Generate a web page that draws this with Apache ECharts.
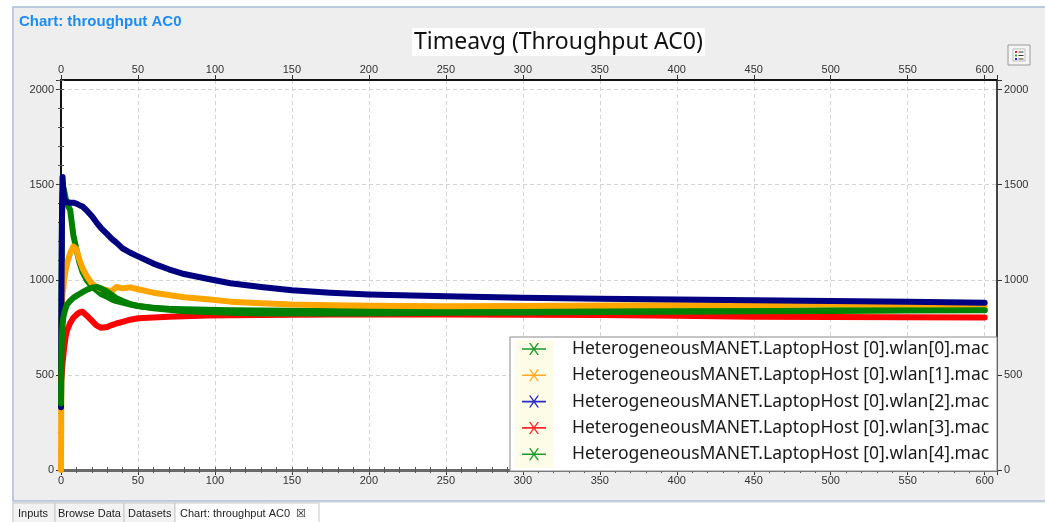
<!DOCTYPE html>
<html>
<head>
<meta charset="utf-8">
<script src="https://cdn.jsdelivr.net/npm/echarts@6/dist/echarts.min.js"></script>
<style>
html,body{margin:0;padding:0;background:#fff;}
#c{width:1045px;height:522px;}
</style>
</head>
<body>
<div id="c"></div>
<script>
// ---- data ----
const seriesNames = [
  'HeterogeneousMANET.LaptopHost [0].wlan[0].mac',
  'HeterogeneousMANET.LaptopHost [0].wlan[1].mac',
  'HeterogeneousMANET.LaptopHost [0].wlan[2].mac',
  'HeterogeneousMANET.LaptopHost [0].wlan[3].mac',
  'HeterogeneousMANET.LaptopHost [0].wlan[4].mac'
];
const times = [0, 0.3, 0.6, 1, 1.5, 2, 3, 4, 6, 8, 10, 12, 14, 17, 20, 23, 26, 30, 33, 36, 40, 45, 50, 60, 70, 80, 95, 110, 130, 150, 175, 200, 250, 300, 350, 400, 450, 500, 550, 600];
const wlan0 = [350, 900, 1300, 1450, 1484, 1470, 1430, 1400, 1365, 1235, 1160, 1090, 1040, 995, 965, 945, 925, 910, 897, 888, 880, 870, 862, 853, 848, 845, 842, 840, 838, 837, 836, 836, 836, 837, 838, 839, 839, 840, 841, 841];
const wlan1 = [0, 600, 880, 930, 950, 1000, 1050, 1090, 1140, 1175, 1160, 1105, 1060, 1015, 980, 962, 952, 945, 940, 962, 955, 960, 950, 932, 920, 908, 897, 885, 877, 870, 866, 863, 861, 862, 865, 866, 866, 871, 868, 862];
const wlan2 = [330, 900, 1300, 1540, 1470, 1430, 1410, 1400, 1405, 1405, 1400, 1392, 1385, 1362, 1335, 1302, 1272, 1240, 1215, 1195, 1165, 1142, 1123, 1085, 1055, 1030, 1005, 982, 962, 945, 932, 923, 913, 906, 900, 896, 892, 888, 884, 879];
const wlan3 = [470, 480, 520, 560, 600, 640, 700, 735, 773, 800, 816, 828, 832, 810, 785, 760, 748, 752, 762, 770, 779, 790, 798, 802, 805, 808, 812, 814, 815, 816, 817, 817, 817, 816, 815, 811, 806, 804, 803, 802];
const wlan4 = [350, 600, 700, 760, 800, 820, 850, 870, 890, 905, 915, 925, 935, 948, 958, 962, 955, 938, 920, 903, 888, 872, 862, 850, 842, 835, 830, 826, 823, 822, 822, 823, 826, 828, 830, 832, 834, 836, 838, 840];
const seriesValues = [wlan0, wlan1, wlan2, wlan3, wlan4];
const seriesColors = ['#008000', '#ffa500', '#000080', '#ff0000', '#008000'];
const legendColors = ['#1a9a2a', '#ffaa22', '#2a2ad0', '#ff2a2a', '#1a9a2a'];
const xMajorTicks = [0, 50, 100, 150, 200, 250, 300, 350, 400, 450, 500, 550, 600];
const yMajorTicks = [0, 500, 1000, 1500, 2000];

const chart = echarts.init(document.getElementById('c'), null, {renderer: 'canvas'});
const X_MAX = 608, Y_MAX = 2050;
const labelFont = {fontFamily: 'Liberation Sans, Arial, sans-serif', fontSize: 11, color: '#333'};
const xFmt = v => xMajorTicks.indexOf(v) >= 0 ? String(v) : '';
const yFmt = v => yMajorTicks.indexOf(v) >= 0 ? String(v) : '';

function mainX(pos, lineColor, lineWidth, showSplit) {
  return {
    type: 'value', position: pos, min: 0, max: X_MAX, interval: 50,
    axisLine: {show: true, onZero: false, lineStyle: {color: lineColor, width: lineWidth}},
    axisTick: {show: true, inside: false, length: 5, lineStyle: {color: '#333'}},
    axisLabel: Object.assign({margin: 5, formatter: xFmt}, labelFont),
    splitLine: {show: showSplit, lineStyle: {color: '#d4d4d4', type: [4, 3]}}
  };
}
function minorX(pos) {
  return {
    type: 'value', position: pos, min: 0, max: X_MAX, interval: 10,
    axisLine: {show: false}, axisTick: {show: true, length: 3, lineStyle: {color: '#555'}},
    axisLabel: {show: false}, splitLine: {show: false}
  };
}
function mainY(pos, lineColor, lineWidth, showSplit) {
  return {
    type: 'value', position: pos, min: 0, max: Y_MAX, interval: 500,
    axisLine: {show: true, onZero: false, lineStyle: {color: lineColor, width: lineWidth}},
    axisTick: {show: true, inside: false, length: 5, lineStyle: {color: '#333'}},
    axisLabel: Object.assign({margin: 7, formatter: yFmt}, labelFont),
    splitLine: {show: showSplit, lineStyle: {color: '#d4d4d4', type: [4, 3]}}
  };
}
function minorY(pos) {
  return {
    type: 'value', position: pos, min: 0, max: Y_MAX, interval: 100,
    axisLine: {show: false}, axisTick: {show: true, length: 3, lineStyle: {color: '#555'}},
    axisLabel: {show: false}, splitLine: {show: false}
  };
}

const iconPath = 'path://M0,5.2 L24,5.2 L24,6.8 L0,6.8 Z M7,0 L8.6,0 L17,12 L15.4,12 Z M15.4,0 L17,0 L8.6,12 L7,12 Z';

const series = seriesNames.map((name, i) => ({
  name: name,
  type: 'line',
  xAxisIndex: 0, yAxisIndex: 0,
  showSymbol: false,
  symbol: 'none',
  color: seriesColors[i],
  lineStyle: {width: 6, color: seriesColors[i], cap: 'round', join: 'round'},
  data: times.map((t, k) => [t, seriesValues[i][k]]),
  z: 2 + i * 0.01,
  animation: false
}));

const tabs = [
  {text: 'Inputs', x: 13, w: 42, tx: 18, active: false},
  {text: 'Browse Data', x: 55, w: 69, tx: 58, active: false},
  {text: 'Datasets', x: 124, w: 51, tx: 128, active: false},
  {text: 'Chart: throughput AC0  \u2612', x: 175, w: 144, tx: 180, active: true}
];
const tabGraphics = [];
tabs.forEach(t => {
  tabGraphics.push({type: 'rect', shape: {x: t.x, y: 503, width: t.w, height: 20},
    style: {fill: t.active ? '#ffffff' : '#f2f2f2', stroke: '#c8c8c8', lineWidth: 1}, z: 1});
  tabGraphics.push({type: 'text', x: t.tx, y: 514,
    style: {text: t.text, fill: '#222', font: '11px Liberation Sans, Arial, sans-serif', textVerticalAlign: 'middle'}, z: 2});
});

chart.setOption({
  animation: false,
  backgroundColor: '#ffffff',
  title: [
    {text: 'Chart: throughput AC0', left: 19, top: 14,
     textStyle: {fontFamily: 'Liberation Sans, Arial, sans-serif', fontSize: 15, fontWeight: 'bold', color: '#1c8cf5'}, padding: 0},
    {text: 'Timeavg (Throughput AC0)', left: 412, top: 28, backgroundColor: '#ffffff', padding: [0, 2, 0, 2],
     textStyle: {fontFamily: 'Noto Sans, Open Sans, sans-serif', fontSize: 23, fontWeight: 'normal', color: '#111', lineHeight: 28}}
  ],
  grid: {left: 61, right: 48, top: 80, bottom: 52, show: true, backgroundColor: '#ffffff', borderWidth: 0, containLabel: false},
  xAxis: [mainX('bottom', '#6a6a6a', 3, true), mainX('top', '#111', 2, false), minorX('bottom'), minorX('top')],
  yAxis: [mainY('left', '#111', 2, true), mainY('right', '#444', 2, false), minorY('left'), minorY('right')],
  legend: {
    orient: 'vertical', left: 522, top: 339, padding: 0, itemGap: 6.3,
    itemWidth: 24, itemHeight: 12, icon: iconPath, selectedMode: false,
    textStyle: {fontFamily: 'Noto Sans, Open Sans, sans-serif', fontSize: 17.5, color: '#1a1a1a', lineHeight: 20, padding: [0, 0, 0, 21]},
    data: seriesNames.map((n, i) => ({name: n, itemStyle: {color: legendColors[i]}})),
    z: 20
  },
  graphic: [
    {type: 'rect', shape: {x: 13, y: 7, width: 1040, height: 494}, style: {fill: '#eeeeee', stroke: '#a9bfd6', lineWidth: 1.5}, z: -10, silent: true},
    {type: 'rect', shape: {x: 13, y: 502, width: 1040, height: 21}, style: {fill: '#ffffff', stroke: '#d0d0d0', lineWidth: 1}, z: 0, silent: true},
    {type: 'rect', shape: {x: 510, y: 337, width: 487, height: 134}, style: {fill: '#ffffff', stroke: '#8a8a8a', lineWidth: 1}, z: 15, silent: true},
    {type: 'rect', shape: {x: 515, y: 340, width: 38, height: 128}, style: {fill: '#fdfce6'}, z: 16, silent: true},
    {type: 'rect', shape: {x: 1008, y: 45, width: 22, height: 20}, style: {fill: '#f4f4f4', stroke: '#9a9a9a', lineWidth: 1}, z: 5},
    {type: 'rect', shape: {x: 1013, y: 49, width: 12, height: 12}, style: {fill: '#ffffff', stroke: '#bbbbbb', lineWidth: 1}, z: 6},
    {type: 'rect', shape: {x: 1015, y: 51, width: 2, height: 2}, style: {fill: '#e22'}, z: 7},
    {type: 'rect', shape: {x: 1015, y: 54.5, width: 2, height: 2}, style: {fill: '#2a2'}, z: 7},
    {type: 'rect', shape: {x: 1015, y: 58, width: 2, height: 2}, style: {fill: '#22e'}, z: 7},
    {type: 'rect', shape: {x: 1018.5, y: 51.5, width: 5, height: 1}, style: {fill: '#333'}, z: 7},
    {type: 'rect', shape: {x: 1018.5, y: 55, width: 5, height: 1}, style: {fill: '#333'}, z: 7},
    {type: 'rect', shape: {x: 1018.5, y: 58.5, width: 5, height: 1}, style: {fill: '#333'}, z: 7}
  ].concat(tabGraphics),
  series: series
});
</script>
</body>
</html>
